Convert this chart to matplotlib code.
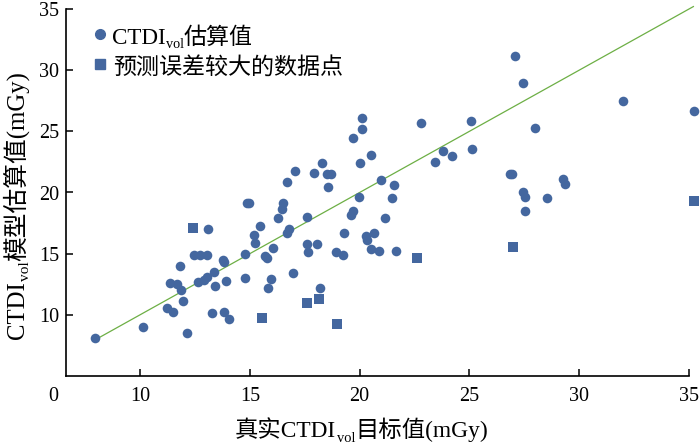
import numpy as np
import matplotlib
matplotlib.use("Agg")
import matplotlib.pyplot as plt

FAM = ['Liberation Serif', 'Noto Sans CJK SC', 'DejaVu Sans']
plt.rcParams['font.family'] = FAM

# CTDIvol 估算值 (真实值, 估算值)
est_x = [7.95, 10.14, 12.14, 11.23, 11.50, 11.96, 11.37, 11.68, 11.87, 11.82,
         13.10, 12.46, 12.73, 13.05, 12.64, 12.91, 13.05, 13.37, 13.78, 13.83,
         13.42, 13.92, 13.28, 13.83, 14.05, 14.87, 14.96, 14.78, 14.78, 20.11,
         20.11, 19.70, 22.80, 20.52, 20.02, 18.29, 17.06, 17.92, 18.52, 18.70,
         16.69, 18.56, 20.97, 21.57, 21.48, 19.97, 16.51, 16.47, 16.28, 17.60,
         19.70, 19.61, 21.16, 15.46, 15.19, 15.24, 16.78, 16.69, 19.29, 20.29,
         20.34, 20.66, 15.69, 15.78, 16.06, 17.60, 17.65, 18.06, 18.93, 19.24,
         20.52, 20.88, 21.66, 15.97, 15.83, 16.97, 18.20, 23.43, 23.80, 24.21,
         25.12, 25.07, 27.08, 27.44, 32.00, 35.23, 27.99, 26.85, 26.94, 27.44,
         27.53, 27.53, 28.53, 29.26, 29.35]
est_y = [8.12, 9.02, 8.53, 10.57, 10.25, 11.14, 12.61, 12.53, 12.04, 14.00,
         17.03, 14.90, 14.90, 14.90, 12.70, 12.86, 13.10, 13.51, 14.49, 14.33,
         12.37, 12.78, 10.16, 10.25, 9.67, 19.15, 19.15, 14.98, 13.02, 26.09,
         25.20, 24.46, 25.69, 23.07, 22.42, 22.42, 21.76, 21.60, 21.52, 21.52,
         20.87, 20.46, 21.03, 20.62, 19.56, 19.64, 19.15, 18.66, 17.92, 18.01,
         18.50, 18.17, 17.92, 17.27, 16.54, 15.88, 17.03, 16.70, 16.70, 16.45,
         16.13, 16.70, 14.82, 14.66, 15.47, 15.80, 15.15, 15.80, 15.15, 14.90,
         15.39, 15.23, 15.23, 12.94, 12.21, 13.43, 12.21, 22.50, 23.40, 22.99,
         23.56, 25.85, 31.16, 28.95, 27.48, 26.67, 25.28, 21.52, 21.52, 20.05,
         19.64, 18.50, 19.56, 21.11, 20.70]

# 预测误差较大的数据点
err_x = [12.41, 15.56, 17.60, 18.15, 18.97, 22.61, 26.99, 35.23]
err_y = [17.11, 9.75, 10.98, 11.31, 9.26, 14.66, 15.56, 19.31]

# 参考线
fit_x = [7.95, 35.2]
fit_y = [7.95, 35.2]

x_ticks = [10, 15, 20, 25, 30, 35]
y_ticks = [10, 15, 20, 25, 30, 35]

BLUE = '#44679F'
GREEN = '#6DAF45'
H = 448


def chain_text(ax, x, y, parts, size, rotation=0):
    """图像像素坐标(左上为原点)起点, 依次拼接文字, sub=True 为下标"""
    yy = H - y
    first = None
    prev = None
    for s, sub in parts:
        fs = size * 0.62 if sub else size
        if prev is None:
            t = ax.annotate(s, xy=(x, yy), xycoords='figure pixels',
                            fontsize=fs, ha='left', va='baseline',
                            rotation=rotation, rotation_mode='anchor',
                            annotation_clip=False)
            first = t
        elif rotation == 0:
            off = (0.3, -3.3) if sub else (0, 0)
            t = ax.annotate(s, xy=(1, yy), xycoords=(prev, 'figure pixels'),
                            xytext=off, textcoords='offset points',
                            fontsize=fs, ha='left', va='baseline',
                            annotation_clip=False)
        else:
            off = (3.3, 0.3) if sub else (0, 0)
            t = ax.annotate(s, xy=(x, 1), xycoords=('figure pixels', prev),
                            xytext=off, textcoords='offset points',
                            fontsize=fs, ha='left', va='baseline',
                            rotation=rotation, rotation_mode='anchor',
                            annotation_clip=False)
        prev = t
    return first


fig = plt.figure(figsize=(7, 4.48), dpi=100)
ax = fig.add_axes([66 / 700, 72 / 448, 623 / 700, 367 / 448])

ax.plot(fit_x, fit_y, color=GREEN, linewidth=0.9, zorder=1, clip_on=False)
ax.scatter(est_x, est_y, s=48, marker='o', color=BLUE, linewidths=0,
           zorder=3, clip_on=False)
ax.scatter(err_x, err_y, s=46, marker='s', color=BLUE, linewidths=0,
           zorder=3, clip_on=False)

ax.set_xlim(6.63, 35)
ax.set_ylim(5, 35)
ax.set_xticks(x_ticks)
ax.set_yticks(y_ticks)
ax.spines['top'].set_visible(False)
ax.spines['right'].set_visible(False)
for sp in ['left', 'bottom']:
    ax.spines[sp].set_linewidth(1.2)
ax.tick_params(direction='in', length=5, width=1.1, labelsize=14.5)
ax.tick_params(axis='x', pad=8)
ax.tick_params(axis='y', pad=5)

# 原点 "0"
ax.annotate('0', xy=(0, 0), xycoords='axes fraction', xytext=(-9.5, -8),
            textcoords='offset points', ha='center', va='top', fontsize=14.5,
            annotation_clip=False)

# 图例
ax.plot([100], [H - 34], marker='o', markersize=7, color=BLUE, linestyle='none',
        transform=None, clip_on=False)
ax.plot([100], [H - 64], marker='s', markersize=6.5, color=BLUE, linestyle='none',
        transform=None, clip_on=False)
chain_text(ax, 112, 43.5, [('CTDI', False), ('vol', True), ('估算值', False)], 16.6)
chain_text(ax, 113, 74, [('预测误差较大的数据点', False)], 16.6)

# 坐标轴标题
chain_text(ax, 235, 437, [('真实CTDI', False), ('vol', True), ('目标值(mGy)', False)], 16.8)
chain_text(ax, 24, 339, [('CTDI', False), ('vol', True), ('模型估算值(mGy)', False)], 17.8,
           rotation=90)

fig.savefig('out.png', dpi=100)
